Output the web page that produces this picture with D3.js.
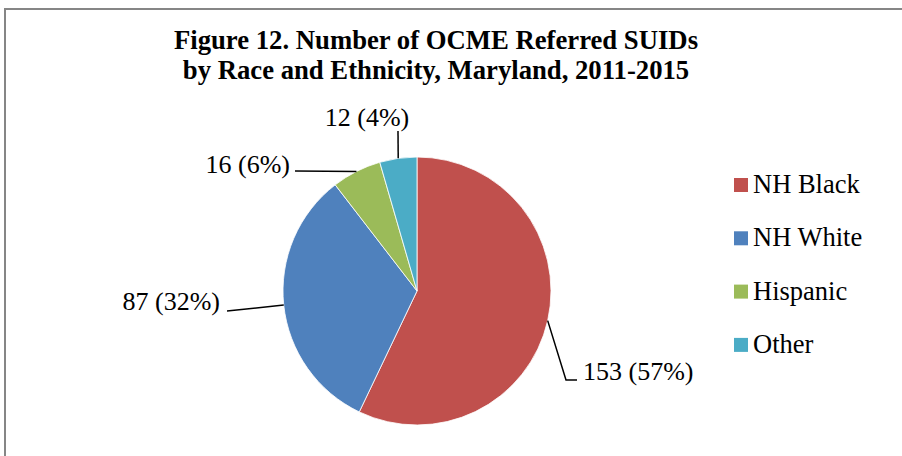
<!DOCTYPE html>
<html>
<head>
<meta charset="utf-8">
<script src="https://cdn.jsdelivr.net/npm/d3@7"></script>
<style>
  html, body { margin: 0; padding: 0; background: #fff; }
  svg { display: block; }
  text { font-family: "Liberation Serif", "Times New Roman", serif; fill: #000; }
</style>
</head>
<body>
<svg id="chart" width="902" height="456"></svg>
<script>
// ---- Data ----
const categories = ["NH Black", "NH White", "Hispanic", "Other"];
const values = [153, 87, 16, 12];
const colors = ["#C0504D", "#4F81BD", "#9BBB59", "#4BACC6"];
const titleLines = ["Figure 12. Number of OCME Referred SUIDs", "by Race and Ethnicity, Maryland, 2011-2015"];

// ---- Layout ----
const W = 902, H = 456;
const cx = 417, cy = 291, R = 134;
const fontSize = 26;
const titleSize = 26.7;
const legendSize = 26.5;
// label layout: leader bend/end points and text anchor (absolute px)
const labelLayout = [
  { pts: [[566, 380], [577, 380]], tx: 583, ty: 380, anchor: "start" },
  { pts: [[227, 311]], tx: 220, ty: 310, anchor: "end" },
  { pts: [[295, 171]], tx: 290, ty: 173, anchor: "end" },
  { pts: [[398, 131]], tx: 367, ty: 126, anchor: "middle" }
];

const svg = d3.select("#chart");

// chart border
svg.append("rect")
  .attr("x", 5).attr("y", 9)
  .attr("width", 1000).attr("height", 1000)
  .attr("fill", "#fff")
  .attr("stroke", "#868686")
  .attr("stroke-width", 2);

// title
svg.append("g").selectAll("text")
  .data(titleLines)
  .join("text")
  .attr("x", 436)
  .attr("y", (d, i) => 49 + i * 30)
  .attr("text-anchor", "middle")
  .attr("font-weight", "bold")
  .attr("font-size", titleSize)
  .text(d => d);

// pie
const total = d3.sum(values);
const pie = d3.pie().sort(null).value(d => d)(values);
const arc = d3.arc().innerRadius(0).outerRadius(R);
const edge = d3.arc().innerRadius(R).outerRadius(R);

const g = svg.append("g").attr("transform", `translate(${cx},${cy})`);
g.selectAll("path")
  .data(pie)
  .join("path")
  .attr("d", arc)
  .attr("fill", (d, i) => colors[i])
  .attr("stroke", "#fff")
  .attr("stroke-width", 0.8);

// leaders and labels
const line = d3.line();
pie.forEach((d, i) => {
  const c = edge.centroid(d);
  const start = [cx + c[0], cy + c[1]];
  const L = labelLayout[i];
  svg.append("path")
    .attr("d", line([start, ...L.pts]))
    .attr("fill", "none")
    .attr("stroke", "#000")
    .attr("stroke-width", 1.5);
  const pct = Math.round(values[i] / total * 100);
  svg.append("text")
    .attr("x", L.tx).attr("y", L.ty)
    .attr("text-anchor", L.anchor)
    .attr("font-size", fontSize)
    .text(`${values[i]} (${pct}%)`);
});

// legend
const legend = svg.append("g").attr("transform", "translate(734,178)");
const item = legend.selectAll("g")
  .data(categories)
  .join("g")
  .attr("transform", (d, i) => `translate(0,${i * 53.3})`);
item.append("rect")
  .attr("width", 14).attr("height", 14)
  .attr("fill", (d, i) => colors[i]);
item.append("text")
  .attr("x", 19).attr("y", 15)
  .attr("font-size", legendSize)
  .text(d => d);
</script>
</body>
</html>
